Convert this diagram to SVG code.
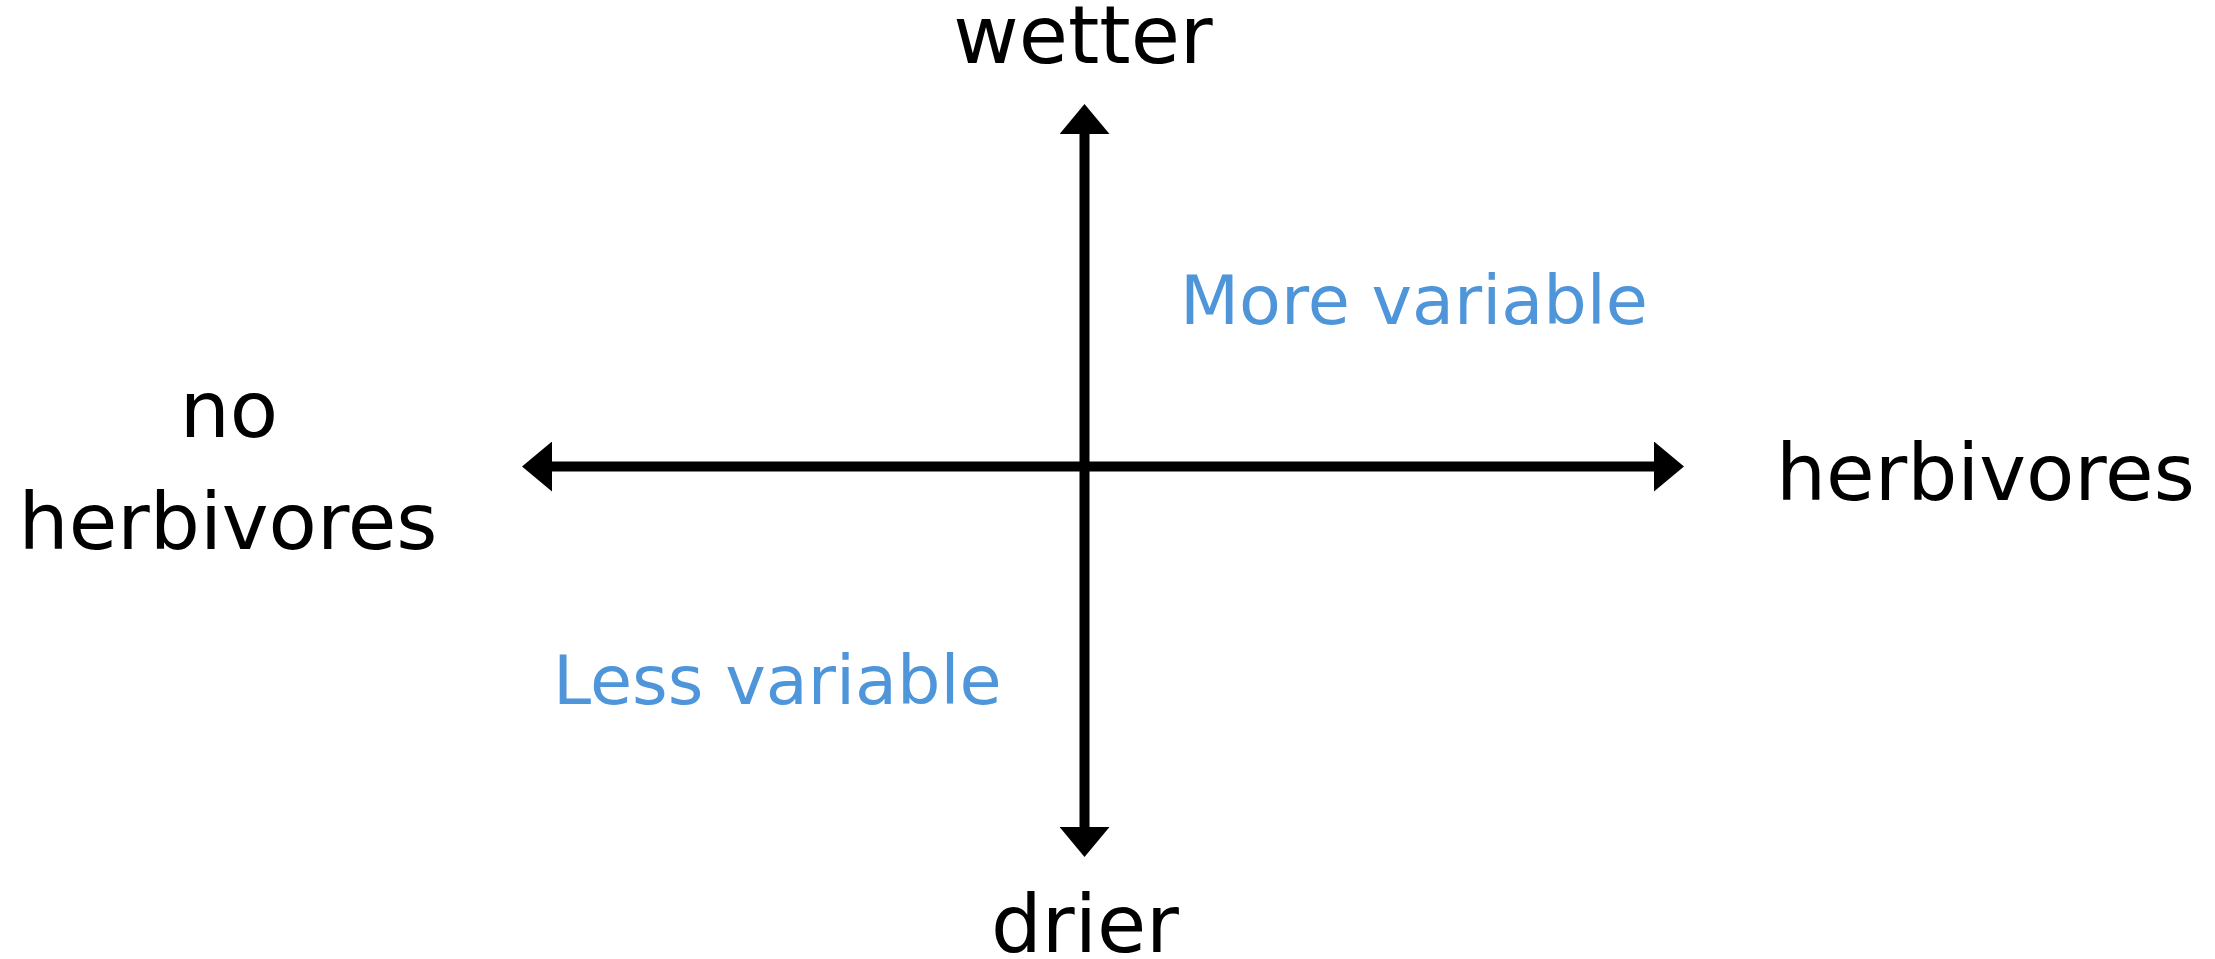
<svg xmlns="http://www.w3.org/2000/svg" width="2215" height="959" viewBox="0 0 2215 959">
  <style>
    .lbl { font-family: "DejaVu Sans", "Liberation Sans", sans-serif; font-size: 79px; fill: #000000; }
    .big { font-size: 80px; }
    .blue { font-family: "DejaVu Sans", "Liberation Sans", sans-serif; font-size: 68.5px; fill: #4E95D9; }
    .axis { stroke: #000000; stroke-width: 10; fill: none; }
  </style>
  <defs>
    <marker id="head" markerUnits="userSpaceOnUse" markerWidth="30" markerHeight="50" viewBox="0 0 30 50" refX="1" refY="25" orient="auto-start-reverse">
      <path d="M0,0 L30,25 L0,50 Z" fill="#000000"/>
    </marker>
  </defs>
  <rect width="2215" height="959" fill="#ffffff"/>
  <g id="connectors">
    <line class="axis" x1="1084.5" y1="133" x2="1084.5" y2="828" marker-start="url(#head)" marker-end="url(#head)"/>
    <line class="axis" x1="551" y1="466.5" x2="1655" y2="466.5" marker-start="url(#head)" marker-end="url(#head)"/>
  </g>
  <g id="wetter"><text class="lbl big" x="1083" y="63" text-anchor="middle">wetter</text></g>
  <g id="drier"><text class="lbl big" x="1085" y="952" text-anchor="middle">drier</text></g>
  <g id="no-herbivores">
    <text class="lbl" x="229" y="437" text-anchor="middle">no</text>
    <text class="lbl" x="228" y="549" text-anchor="middle">herbivores</text>
  </g>
  <g id="herbivores"><text class="lbl" x="1776" y="500">herbivores</text></g>
  <g id="more-variable"><text class="blue" x="1180" y="324">More variable</text></g>
  <g id="less-variable"><text class="blue" x="553" y="704">Less variable</text></g>
</svg>
